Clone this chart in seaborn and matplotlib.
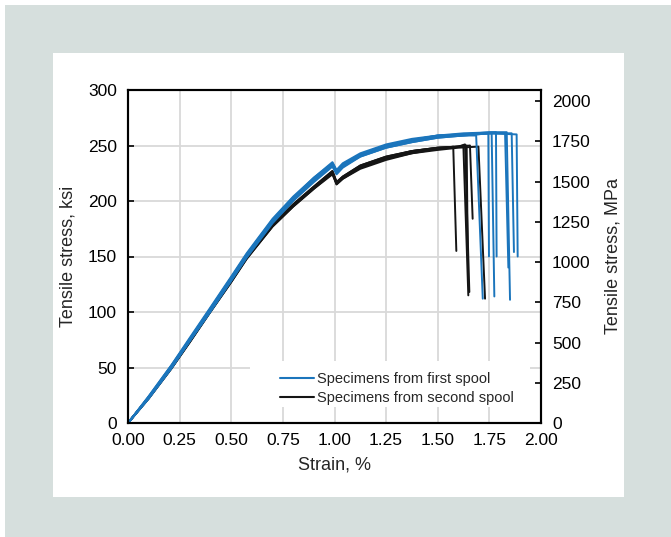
import matplotlib
matplotlib.use("Agg")
import matplotlib.pyplot as plt
import seaborn as sns
import pandas as pd
from matplotlib.patches import Rectangle

sns.set_style("white")
plt.rcParams['font.family'] = ['Liberation Sans', 'DejaVu Sans']

KSI_TO_MPA = 6.894757

x_ticks = [0.00, 0.25, 0.50, 0.75, 1.00, 1.25, 1.50, 1.75, 2.00]
ksi_ticks = [0, 50, 100, 150, 200, 250, 300]
mpa_ticks = [0, 250, 500, 750, 1000, 1250, 1500, 1750, 2000]

label_first = "Specimens from first spool"
label_second = "Specimens from second spool"

# shared strain points (%) before the failure region
knots = [0.0, 0.1, 0.21, 0.3, 0.395, 0.5, 0.575, 0.7, 0.8, 0.9, 0.99,
         1.01, 1.04, 1.125, 1.25, 1.375, 1.5]

# first spool (blue) stresses at knots, ksi
b1 = [0, 23, 51, 76, 102, 131, 152, 183, 203, 220, 234, 227, 233, 242, 250, 255, 258]
b2 = [0, 24, 52, 77, 103, 132, 153, 184, 204, 221, 235, 228, 234, 243, 251, 256, 259]
b3 = [0, 23, 50, 75, 101, 130, 151, 182, 202, 219, 233, 226, 232, 241, 249, 254, 258]
b4 = [0, 24, 52, 76, 102, 131, 152, 183, 203, 221, 234, 227, 233, 242, 250, 255, 259]
b5 = [0, 22, 50, 74, 100, 129, 150, 181, 201, 218, 232, 225, 231, 240, 248, 253, 257]
b6 = [0, 23, 51, 75, 101, 130, 151, 182, 202, 220, 233, 226, 232, 241, 249, 255, 259]
b7 = [0, 22, 49, 74, 99, 128, 149, 180, 200, 217, 231, 224, 230, 240, 248, 253, 257]
b8 = [0, 23, 50, 75, 100, 129, 150, 181, 201, 219, 232, 225, 231, 241, 249, 254, 258]
# failure tail: plateau points, peak, then drop point
b1_tail_x, b1_tail_y = [1.6, 1.686, 1.718], [259, 259, 112]
b2_tail_x, b2_tail_y = [1.625, 1.745, 1.748], [260, 261, 150]
b3_tail_x, b3_tail_y = [1.625, 1.761, 1.774], [260, 261, 114]
b4_tail_x, b4_tail_y = [1.625, 1.782, 1.785], [261, 262, 150]
b5_tail_x, b5_tail_y = [1.625, 1.75, 1.826, 1.842], [259, 261, 261, 140]
b6_tail_x, b6_tail_y = [1.625, 1.75, 1.834, 1.850], [260, 262, 262, 111]
b7_tail_x, b7_tail_y = [1.625, 1.75, 1.858, 1.869], [259, 261, 261, 154]
b8_tail_x, b8_tail_y = [1.625, 1.75, 1.882, 1.887], [260, 261, 260, 150]

# second spool (black) stresses at knots, ksi
k1 = [0, 23, 50, 74, 100, 128, 149, 178, 196, 212, 226, 216, 221, 231, 239, 244, 247]
k2 = [0, 23, 51, 75, 101, 129, 150, 179, 197, 213, 227, 217, 222, 232, 240, 245, 248]
k3 = [0, 22, 49, 73, 99, 127, 148, 177, 195, 211, 225, 215, 220, 230, 238, 243, 247]
k4 = [0, 23, 50, 74, 100, 128, 149, 179, 197, 213, 227, 217, 222, 232, 240, 245, 248]
k5 = [0, 22, 49, 73, 99, 127, 148, 177, 195, 211, 224, 215, 220, 229, 237, 243, 246]
k6 = [0, 23, 50, 74, 100, 128, 149, 178, 196, 212, 226, 216, 221, 231, 239, 245, 248]
k1_tail_x, k1_tail_y = [1.575, 1.590], [249, 155]
k2_tail_x, k2_tail_y = [1.6, 1.624, 1.648], [249, 250, 115]
k3_tail_x, k3_tail_y = [1.6, 1.632, 1.653], [249, 251, 118]
k4_tail_x, k4_tail_y = [1.6, 1.656, 1.669], [249, 250, 184]
k5_tail_x, k5_tail_y = [1.6, 1.697, 1.729], [248, 249, 112]
k6_tail_x, k6_tail_y = [1.6, 1.640, 1.645], [249, 250, 156]

blue_specs = [(b1, b1_tail_x, b1_tail_y), (b2, b2_tail_x, b2_tail_y),
              (b3, b3_tail_x, b3_tail_y), (b4, b4_tail_x, b4_tail_y),
              (b5, b5_tail_x, b5_tail_y), (b6, b6_tail_x, b6_tail_y),
              (b7, b7_tail_x, b7_tail_y), (b8, b8_tail_x, b8_tail_y)]
black_specs = [(k1, k1_tail_x, k1_tail_y), (k2, k2_tail_x, k2_tail_y),
               (k3, k3_tail_x, k3_tail_y), (k4, k4_tail_x, k4_tail_y),
               (k5, k5_tail_x, k5_tail_y), (k6, k6_tail_x, k6_tail_y)]

rows = []
for spool, specs, tag in [(label_second, black_specs, "K"), (label_first, blue_specs, "B")]:
    for i, (vals, tx, ty) in enumerate(specs):
        xs = knots + tx
        ys = vals + ty
        for x, y in zip(xs, ys):
            rows.append({"strain": x, "stress": y, "specimen": f"{tag}{i}",
                         "spool": spool})
df = pd.DataFrame(rows)

BLUE = "#1b75bc"
BLACK = "#151515"

fig = plt.figure(figsize=(6.71, 5.37), dpi=100)
fig.patch.set_facecolor("white")
fig.patches.append(Rectangle((5 / 671, 0), 1 - 5 / 671, 532 / 537,
                             transform=fig.transFigure, facecolor="#d6dfdd",
                             edgecolor="none", zorder=-10))
fig.patches.append(Rectangle((53 / 671, 1 - 497 / 537), 571 / 671, 444 / 537,
                             transform=fig.transFigure, facecolor="white",
                             edgecolor="none", zorder=-9))

ax = fig.add_axes([128 / 671, 1 - 423 / 537, 413 / 671, 333 / 537])
ax.set_facecolor("none")

sns.lineplot(data=df, x="strain", y="stress", hue="spool",
             hue_order=[label_second, label_first],
             palette={label_first: BLUE, label_second: BLACK},
             units="specimen", estimator=None, sort=False,
             linewidth=1.4, ax=ax)

ax.set_xlim(0, 2.0)
ax.set_ylim(0, 300)
ax.set_xticks(x_ticks)
ax.set_xticklabels([f"{t:.2f}" for t in x_ticks])
ax.set_yticks(ksi_ticks)
ax.set_yticklabels([str(t) for t in ksi_ticks])
ax.grid(True, color="#d9d9d9", linewidth=1.3)
ax.set_axisbelow(True)
for s in ax.spines.values():
    s.set_color("black")
    s.set_linewidth(1.5)
ax.tick_params(axis="both", direction="in", length=4, width=1.2,
               labelsize=12.5, colors="black")
ax.tick_params(axis="x", pad=7)
ax.tick_params(axis="y", pad=8, right=False)
ax.set_xlabel("Strain, %", fontsize=13, labelpad=6)
ax.set_ylabel("Tensile stress, ksi", fontsize=13, labelpad=8)

ax2 = ax.twinx()
ax2.set_ylim(0, 300 * KSI_TO_MPA)
ax2.set_yticks(mpa_ticks)
ax2.set_yticklabels([str(t) for t in mpa_ticks])
ax2.tick_params(axis="y", direction="in", length=4, width=1.2,
                labelsize=12.5, pad=8, colors="black")
for s in ax2.spines.values():
    s.set_color("black")
    s.set_linewidth(1.5)
ax2.set_ylabel("Tensile stress, MPa", fontsize=13, labelpad=10)
ax2.grid(False)

# white legend background covering the grid
ax.add_patch(Rectangle((122 / 413, 16 / 333), 280 / 413, 46 / 333,
                       transform=ax.transAxes, facecolor="white",
                       edgecolor="none", zorder=1.5))

handles, labels = ax.get_legend_handles_labels()
hmap = dict(zip(labels, handles))
leg = ax.legend([hmap[label_first], hmap[label_second]],
                [label_first, label_second],
                loc="lower left", bbox_to_anchor=(142 / 413, 8 / 333),
                frameon=False, fontsize=10.5, handlelength=2.3,
                handletextpad=0.25, labelspacing=0.3, borderpad=0.2)
for line in leg.get_lines():
    line.set_linewidth(1.5)

fig.savefig("out.png", dpi=100, facecolor=fig.get_facecolor())
